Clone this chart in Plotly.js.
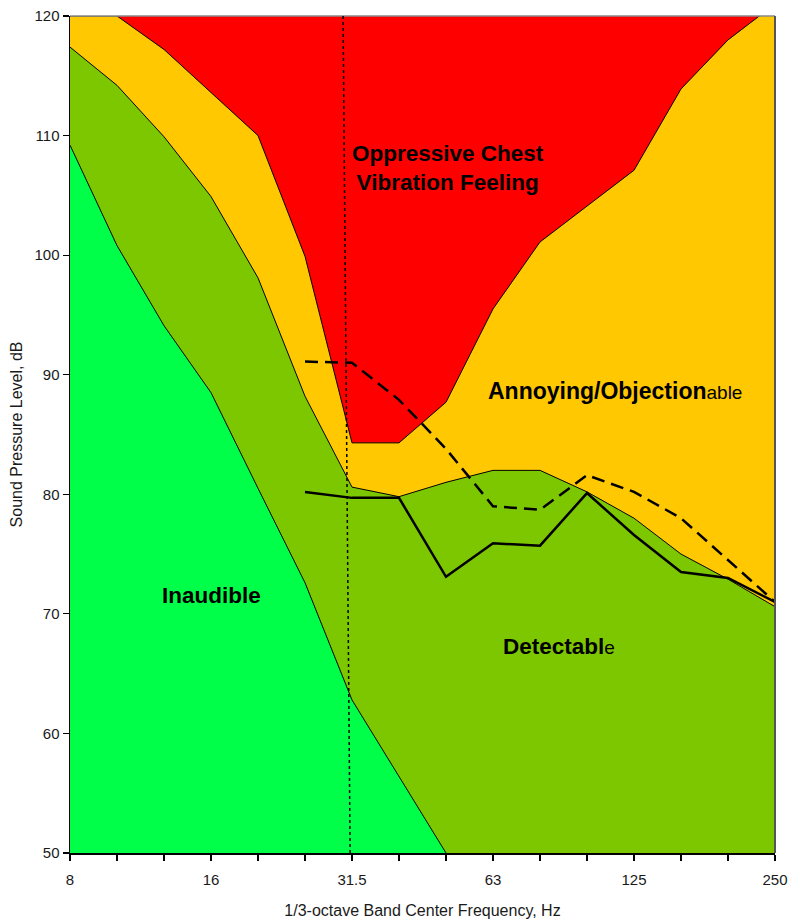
<!DOCTYPE html>
<html>
<head>
<meta charset="utf-8">
<script src="https://cdn.plot.ly/plotly-3.0.1.min.js"></script>
<style>
  html, body { margin: 0; padding: 0; background: #fff; }
  #chart { width: 791px; height: 919px; }
</style>
</head>
<body>
<div id="chart"></div>
<script>
// 1/3-octave band centre frequencies (Hz)
const bands = ['8','10','12.5','16','20','25','31.5','40','50','63','80','100','125','160','200','250'];
const labelledBands = ['8','16','31.5','63','125','250'];

// Upper limit of "Annoying/Objectionable" (red / orange boundary), dB
const oppressiveLimit = [120, 120, 117.2, 113.6, 110.0, 99.9, 84.3, 84.3, 87.7, 95.5, 101.1, 104.1, 107.1, 113.9, 118.0, 121.0];
// Upper limit of "Detectable" (orange / olive boundary), dB
const annoyanceLimit = [117.4, 114.2, 109.9, 104.9, 98.1, 88.2, 80.6, 79.8, 81.0, 82.0, 82.0, 80.2, 78.0, 75.0, 72.9, 70.6];
// Hearing threshold (bright green / olive boundary), dB — bands 8..50 Hz
const thresholdBands = ['8','10','12.5','16','20','25','31.5','40','50'];
const hearingThreshold = [109.2, 100.8, 94.1, 88.5, 80.5, 72.6, 62.8, 56.4, 50.0];

// Measured spectra, bands 25..250 Hz
const measuredBands = ['25','31.5','40','50','63','80','100','125','160','200','250'];
const measuredSolid = [80.2, 79.7, 79.7, 73.1, 75.9, 75.7, 80.1, 76.6, 73.5, 73.0, 71.0];
const measuredDashed = [91.1, 91.0, 87.9, 83.8, 79.0, 78.7, 81.6, 80.2, 78.0, 74.5, 71.0];

const FONT = 'Liberation Sans, Arial, sans-serif';
const RED = '#FF0000', ORANGE = '#FFC800', OLIVE = '#7DC700', GREEN = '#00FF48';

const traces = [
  { x: bands, y: oppressiveLimit, type: 'scatter', mode: 'lines', fill: 'tozeroy',
    fillcolor: ORANGE, line: { color: '#000', width: 1 }, hoverinfo: 'skip' },
  { x: bands, y: annoyanceLimit, type: 'scatter', mode: 'lines', fill: 'tozeroy',
    fillcolor: OLIVE, line: { color: '#000', width: 1 }, hoverinfo: 'skip' },
  { x: thresholdBands, y: hearingThreshold, type: 'scatter', mode: 'lines', fill: 'tozeroy',
    fillcolor: GREEN, line: { color: '#000', width: 1 }, hoverinfo: 'skip' },
  { x: measuredBands, y: measuredSolid, type: 'scatter', mode: 'lines',
    line: { color: '#000', width: 2.5 } },
  { x: measuredBands, y: measuredDashed, type: 'scatter', mode: 'lines',
    line: { color: '#000', width: 2.5, dash: '13px,7px' } }
];

const idx315 = bands.indexOf('31.5');

const layout = {
  width: 791, height: 919,
  margin: { l: 70, r: 16, t: 16, b: 66 },
  paper_bgcolor: '#fff',
  plot_bgcolor: RED,
  showlegend: false,
  font: { family: FONT, color: '#1a1a1a' },
  xaxis: {
    type: 'category', range: [0, bands.length - 1],
    tickmode: 'array', tickvals: bands,
    ticktext: bands.map(b => labelledBands.includes(b) ? b : ''),
    ticks: 'outside', ticklen: 6, tickwidth: 1.2, tickcolor: '#000',
    showline: true, linecolor: '#000', linewidth: 1.5,
    showgrid: false, zeroline: false, automargin: false,
    tickfont: { family: FONT, size: 15, color: '#1a1a1a' },
    ticklabelstandoff: 6,
    title: { text: '1/3-octave Band Center Frequency, Hz', font: { family: FONT, size: 16, color: '#1a1a1a' }, standoff: 18 }
  },
  yaxis: {
    range: [50, 120], tickmode: 'linear', tick0: 50, dtick: 10,
    ticks: 'outside', ticklen: 6, tickwidth: 1.2, tickcolor: '#000',
    showline: true, linecolor: '#000', linewidth: 1.5,
    showgrid: false, zeroline: false, automargin: false,
    tickfont: { family: FONT, size: 15, color: '#1a1a1a' },
    title: { text: 'Sound Pressure Level, dB', font: { family: FONT, size: 16, color: '#1a1a1a' }, standoff: 8 }
  },
  shapes: [
    { type: 'line', xref: 'paper', yref: 'paper', x0: 0, x1: 1, y0: 1, y1: 1,
      line: { color: '#8a8a8a', width: 1.5 }, layer: 'above' },
    { type: 'line', xref: 'paper', yref: 'paper', x0: 1, x1: 1, y0: 0, y1: 1,
      line: { color: '#555', width: 2 }, layer: 'above' },
    { type: 'line', xref: 'x', yref: 'y', x0: idx315 - 0.19, x1: idx315 - 0.04, y0: 120, y1: 50,
      line: { color: '#000', width: 1.5, dash: 'dot' }, layer: 'above' }
  ],
  annotations: [
    { x: 8.04, y: 107.3, xref: 'x', yref: 'y', showarrow: false,
      text: '<b>Oppressive Chest<br>Vibration Feeling</b>', font: { family: FONT, size: 22.5, color: '#000' } },
    { x: 11.6, y: 88.6, xref: 'x', yref: 'y', showarrow: false,
      text: '<b>Annoying/Objection</b><span style="font-size:19px">able</span>', font: { family: FONT, size: 23, color: '#000' } },
    { x: 3.01, y: 71.5, xref: 'x', yref: 'y', showarrow: false,
      text: '<b>Inaudible</b>', font: { family: FONT, size: 22.5, color: '#000' } },
    { x: 10.4, y: 67.3, xref: 'x', yref: 'y', showarrow: false,
      text: '<b>Detectabl</b><span style="font-size:19px">e</span>', font: { family: FONT, size: 22.5, color: '#000' } }
  ]
};

Plotly.newPlot('chart', traces, layout, { staticPlot: true, displayModeBar: false });
</script>
</body>
</html>
